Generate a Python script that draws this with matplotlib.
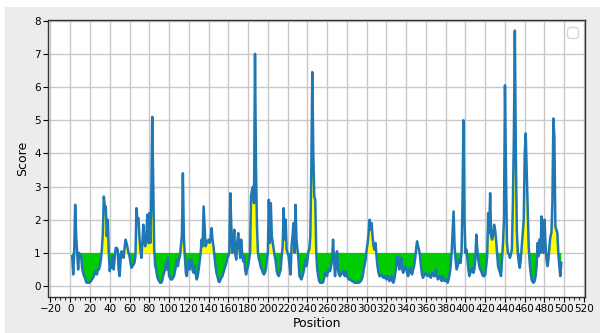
import numpy as np
import matplotlib
matplotlib.use("Agg")
import matplotlib.pyplot as plt
from matplotlib.ticker import MultipleLocator
from matplotlib.patches import Rectangle

start_position = 2
scores = [
    0.9, 0.35, 1.0, 2.45, 1.5, 1.0, 0.5, 1.0,
    0.9, 0.9, 0.55, 0.4, 0.3, 0.25, 0.12, 0.1, 0.1, 0.1,
    0.12, 0.15, 0.2, 0.25, 0.3, 0.45, 0.4, 0.35, 0.5, 0.5,
    0.6, 0.8, 1.1, 1.6, 2.7, 2.4, 2.4, 1.5, 2.0, 1.0,
    0.45, 0.7, 0.55, 0.9, 0.5, 0.85, 1.15, 1.15, 1.1, 0.5,
    0.3, 0.8, 1.05, 0.9, 0.85, 1.15, 1.4, 1.3, 1.15, 1.0,
    0.9, 0.7, 0.55, 0.6, 0.65, 0.7, 0.9, 2.35, 2.0, 2.05,
    1.5, 1.1, 0.85, 1.3, 1.85, 1.3, 1.2, 1.5, 2.15, 1.3,
    2.2, 1.3, 2.5, 5.1, 3.0, 1.1, 0.6, 0.5, 0.3, 0.2,
    0.15, 0.1, 0.1, 0.15, 0.3, 0.4, 0.5, 0.7, 0.5, 0.85,
    0.3, 0.25, 0.2, 0.2, 0.25, 0.3, 0.45, 0.6, 0.8, 0.6,
    0.8, 0.9, 1.2, 1.5, 3.4, 1.5, 0.9, 0.4, 0.3, 0.6,
    0.8, 0.5, 0.7, 0.8, 0.45, 0.4, 0.6, 0.35, 0.2, 0.3,
    0.5, 0.75, 1.0, 1.4, 1.2, 2.4, 1.8, 1.2, 1.3, 1.35,
    1.4, 1.3, 1.4, 1.75, 1.4, 1.2, 0.9, 0.6, 0.4, 0.3,
    0.15, 0.12, 0.2, 0.25, 0.3, 0.4, 0.5, 0.6, 0.7, 0.85,
    0.9, 1.0, 2.8, 1.8, 1.0, 1.3, 1.7, 0.95, 0.8, 1.3,
    1.6, 1.2, 0.85, 1.4, 1.0, 0.75, 0.9, 0.5, 0.35, 0.5,
    0.6, 0.8, 1.0, 2.7, 2.9, 3.0, 2.5, 7.0, 3.6, 1.8,
    1.0, 0.8, 0.7, 0.55, 0.5, 0.4, 0.35, 0.4, 0.5, 0.8,
    1.0, 2.6, 1.3, 2.5, 1.5, 1.3, 1.1, 0.9, 0.75, 0.45,
    0.35, 0.3, 0.4, 0.5, 0.9, 1.2, 2.35, 1.4, 2.0, 1.1,
    1.0, 0.9, 0.6, 0.35, 1.2, 1.5, 1.9, 1.0, 2.45, 1.4,
    1.1, 0.8, 0.3, 0.25, 0.2, 0.3, 0.4, 0.6, 0.8, 0.6,
    0.75, 1.05, 1.1, 1.5, 3.5, 6.45, 4.0, 2.7, 2.6, 1.0,
    0.5, 0.3, 0.15, 0.1, 0.1, 0.1, 0.12, 0.25, 0.4, 0.35,
    0.3, 0.5, 0.45, 0.45, 0.6, 0.8, 1.4, 0.8, 0.3, 0.7,
    1.05, 0.5, 0.35, 0.3, 0.35, 0.4, 0.45, 0.35, 0.3, 0.45,
    0.3, 0.25, 0.2, 0.2, 0.18, 0.15, 0.15, 0.12, 0.1, 0.1,
    0.1, 0.1, 0.1, 0.12, 0.15, 0.2, 0.3, 0.5, 0.65, 0.8,
    1.1, 1.3, 1.6, 2.0, 1.7, 1.9, 1.5, 1.2, 1.1, 1.3,
    0.9, 0.6, 0.4, 0.3, 0.3, 0.35, 0.3, 0.25, 0.3, 0.25,
    0.2, 0.3, 0.25, 0.15, 0.2, 0.3, 0.15, 0.1, 0.2, 0.4,
    0.6, 0.9, 0.85, 0.5, 0.7, 0.85, 0.5, 0.4, 0.5, 0.6,
    0.55, 0.4, 0.3, 0.45, 0.55, 0.4, 0.35, 0.5, 0.6, 0.8,
    1.1, 1.35, 1.2, 1.1, 0.9, 0.6, 0.35, 0.25, 0.3, 0.35,
    0.4, 0.35, 0.3, 0.35, 0.3, 0.25, 0.4, 0.35, 0.3, 0.3,
    0.5, 0.35, 0.2, 0.25, 0.3, 0.2, 0.15, 0.3, 0.2, 0.15,
    0.2, 0.15, 0.1, 0.2, 0.35, 0.6, 1.0, 1.6, 2.25, 1.2,
    0.8, 0.5, 0.6, 0.7, 0.8, 0.7, 1.0, 2.5, 5.0, 2.0,
    1.0, 1.1, 0.8, 0.5, 0.3, 0.4, 0.5, 0.55, 0.4, 0.5,
    0.8, 1.55, 1.1, 0.8, 0.6, 0.5, 0.45, 0.35, 0.3, 0.3,
    0.35, 0.6, 0.9, 2.2, 1.6, 2.8, 1.5, 1.4, 1.55, 1.85,
    1.7, 1.4, 1.0, 0.6, 0.5, 0.4, 0.3, 0.8, 1.3, 2.0,
    6.05, 3.5, 1.3, 1.0, 0.95, 0.85, 0.95, 1.1, 2.5, 4.5,
    7.7, 4.0, 1.7, 1.0, 0.7, 0.55, 0.8, 1.2, 1.6, 2.0,
    4.0, 4.6, 3.5, 2.4, 1.2, 0.7, 0.4, 0.2, 0.12, 0.1,
    0.15, 0.3, 0.6, 1.3, 0.9, 1.4, 1.0, 2.1, 1.6, 1.0,
    2.0, 1.3, 0.8, 0.6, 0.8, 1.2, 1.5, 1.6, 2.5, 5.05,
    4.5, 1.8, 1.7, 1.6, 1.0, 0.6, 0.3, 0.7,
]
threshold = 1.0

y = np.array(scores)
x = np.arange(start_position, start_position + len(y))

fig = plt.figure(figsize=(6.0, 3.33), dpi=100, facecolor="white")
fig.patches.append(Rectangle((5 / 600, 0), 1, (333 - 7) / 333,
                             transform=fig.transFigure, facecolor="#ececec",
                             edgecolor="none", zorder=-10))
ax = fig.add_axes([48.5 / 600, (333 - 296.7) / 333, (585 - 48.5) / 600, (296.7 - 20) / 333])
ax.set_facecolor("white")

ax.fill_between(x, y, threshold, where=y >= threshold, interpolate=True,
                color="#ffff00", linewidth=0, zorder=2)
ax.fill_between(x, y, threshold, where=y <= threshold, interpolate=True,
                color="#00cc00", linewidth=0, zorder=2)
ax.plot(x, y, color="#1f77b4", linewidth=1.8, zorder=3)

ax.set_xlim(-22, 521)
ax.set_ylim(-0.32, 8.02)
ax.xaxis.set_major_locator(MultipleLocator(20))
ax.xaxis.set_minor_locator(MultipleLocator(5))
ax.yaxis.set_major_locator(MultipleLocator(1))
ax.grid(True, which="major", color="#c8c8c8", linewidth=1.0, zorder=0)
ax.set_axisbelow(True)
ax.tick_params(axis="both", which="major", labelsize=7.5, length=3.5, width=0.8, pad=2)
ax.tick_params(axis="x", which="minor", length=2, width=0.6)
for s in ax.spines.values():
    s.set_color("#333333")
    s.set_linewidth(1.0)

ax.set_xlabel("Position", fontsize=9, labelpad=2)
ax.set_ylabel("Score", fontsize=9, labelpad=4)

leg = ax.legend(handles=[], loc="upper right", frameon=True, borderpad=0.4)

fig.savefig("out.png", dpi=100, facecolor=fig.get_facecolor())
